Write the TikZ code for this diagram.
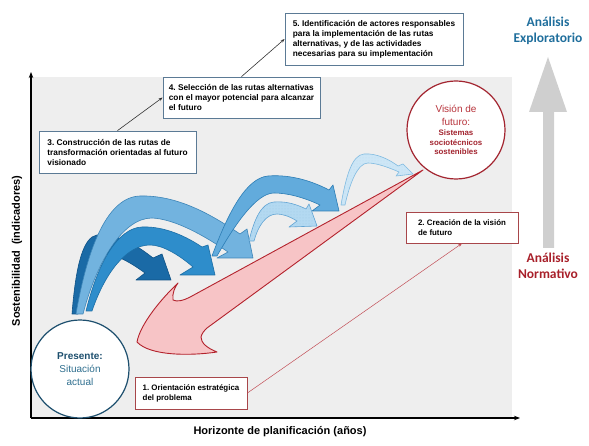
\documentclass[tikz,border=0pt]{standalone}
\usepackage{fontspec}
\setmainfont{Liberation Sans}
\newfontfamily\calfont{Carlito}
\usetikzlibrary{arrows.meta,patterns}
\frenchspacing
\definecolor{panel}{HTML}{EEEEEE}
\definecolor{boxblue}{HTML}{5B7A95}
\definecolor{boxred}{HTML}{A8464A}
\definecolor{presc}{HTML}{1D4F6E}
\definecolor{presl}{HTML}{2F6F8F}
\definecolor{visc}{HTML}{A32530}
\definecolor{visl}{HTML}{B8343C}
\definecolor{explc}{HTML}{1F6E9C}
\definecolor{normc}{HTML}{A8202A}
\definecolor{redfill}{HTML}{F7C4C6}
\definecolor{redline}{HTML}{B3222C}
\definecolor{bdark}{HTML}{1A6AA6}
\definecolor{bdarkl}{HTML}{0F5286}
\definecolor{blight}{HTML}{72B3DF}
\definecolor{blightl}{HTML}{3D85B8}
\definecolor{bmed}{HTML}{2E8DCB}
\definecolor{bmedl}{HTML}{1B6EA6}
\definecolor{bfour}{HTML}{62ABDC}
\definecolor{bfourl}{HTML}{2C7DB5}
\definecolor{bfive}{HTML}{B3D9F1}
\definecolor{bfivel}{HTML}{5FA3D3}
\definecolor{bsix}{HTML}{CDE6F6}
\definecolor{bsixl}{HTML}{7DB9E0}
\definecolor{garrow}{HTML}{CFCFCF}
\tikzset{
  infobox/.style={draw=boxblue, line width=0.8pt, fill=white, align=left,
    inner xsep=4pt, inner ysep=3pt,
    font=\fontsize{8.3}{10}\selectfont\bfseries},
  redbox/.style={draw=boxred, line width=0.8pt, fill=white, align=left,
    inner xsep=5pt, inner ysep=3pt,
    font=\fontsize{7.9}{10}\selectfont\bfseries},
  conn/.style={line width=0.6pt, draw=black!80, -{Stealth[length=4pt,width=3pt]}},
  redconn/.style={line width=0.5pt, draw=redline!80, -{Stealth[length=4pt,width=3pt]}},
  axisline/.style={line width=1.2pt, -{Stealth[length=6pt,width=4.5pt]}},
  blueline/.style={line width=0.6pt, line join=round},
  axislabel/.style={font=\fontsize{11}{13}\selectfont\bfseries}
}
\begin{document}
\begin{tikzpicture}[x=1pt,y=-1pt]
\useasboundingbox (0,0) rectangle (589,446);
% panel
\fill[panel] (32,77) rectangle (512,417);
% axes
\coordinate (orig) at (31,418);
\coordinate (ytop) at (31,72);
\coordinate (xend) at (520,418);
\draw[axisline] (orig) -- (ytop);
\draw[axisline] (orig) -- (xend);
\node[axislabel, rotate=90] (ylab) at (17,251) {Sostenibilidad~~(indicadores)};
\node[axislabel] (xlab) at (280,432) {Horizonte de planificación (años)};

% blue arrows
\draw[blueline, fill=bdark, draw=bdarkl] (72,314) .. controls (76,262) and (84,237) .. (97,235)
 .. controls (117,233) and (138,246) .. (153,258)
 -- (162,254) -- (171,280) -- (136,280) -- (145,273)
 .. controls (130,262) and (115,254) .. (105,254)
 .. controls (93,254) and (83,278) .. (78,314) -- cycle;
\draw[blueline, fill=blight, draw=blightl] (76,314) .. controls (88,245) and (108,197) .. (140,196)
 .. controls (178,195) and (212,215) .. (240,234)
 -- (247,229) -- (253,258) -- (217,258) -- (228,252)
 .. controls (205,236) and (175,219) .. (152,218)
 .. controls (122,218) and (96,264) .. (83,314) -- cycle;
\draw[blueline, fill=bmed, draw=bmedl] (86,311) .. controls (98,262) and (118,228) .. (142,227)
 .. controls (165,226) and (187,237) .. (202,247)
 -- (208,245) -- (215,275) -- (180,275) -- (193,267)
 .. controls (178,254) and (162,245) .. (150,245)
 .. controls (128,245) and (106,270) .. (92,311) -- cycle;
\draw[blueline, fill=bfour, draw=bfourl] (212,256) .. controls (228,213) and (246,178) .. (268,176)
 .. controls (293,174) and (316,183) .. (329,190)
 -- (333,185) -- (339,211) -- (312,211) -- (320,205)
 .. controls (303,197) and (287,193) .. (274,193)
 .. controls (256,193) and (234,226) .. (217,256) -- cycle;
\draw[blueline, fill=bfive, draw=bfivel, postaction={pattern=dots, pattern color=bfivel!60}] (249,241) .. controls (254,220) and (261,203) .. (274,202)
 .. controls (287,201) and (298,205) .. (306,209)
 -- (309,204) -- (317,226) -- (289,227) -- (297,221)
 .. controls (289,216) and (282,214) .. (277,214)
 .. controls (266,214) and (258,226) .. (254,241) -- cycle;
\draw[blueline, fill=bsix, draw=bsixl, postaction={pattern=dots, pattern color=bsixl!50}] (341,205) .. controls (346,176) and (352,155) .. (364,154)
 .. controls (377,153) and (390,160) .. (398,166)
 -- (403,164) -- (413,174) -- (396,176) -- (399,172)
 .. controls (390,168) and (377,163) .. (368,163)
 .. controls (358,163) and (350,182) .. (345,205) -- cycle;

% red arrow
\draw[line width=0.9pt, fill=redfill, draw=redline, line join=round] (423,170) -- (192,296)
 .. controls (183,301) and (177,302) .. (173,300)
 .. controls (172,293) and (175,287) .. (178,283)
 .. controls (160,300) and (140,325) .. (137,342)
 .. controls (150,356) and (190,356) .. (217,352)
 .. controls (207,348) and (201,343) .. (201,337)
 .. controls (202,333) and (204,331) .. (207,328) -- cycle;

% circles
\node[circle, draw=presc, line width=1.2pt, fill=white, minimum size=98pt, inner sep=0pt, align=center,
  font=\fontsize{10}{13}\selectfont, text=presl] (pres) at (80,369)
  {\textcolor{presc}{\bfseries Presente:}\\Situación\\actual};
\node[circle, draw=visc, line width=1.2pt, fill=white, minimum size=98pt, inner sep=0pt, align=center,
  font=\fontsize{10}{12.5}\selectfont, text=visl] (vis) at (456,130)
  {Visión de\\futuro:\\[-2pt]{\fontsize{7.9}{10}\selectfont\bfseries\color{visc}Sistemas}\\[-3pt]{\fontsize{7.9}{10}\selectfont\bfseries\color{visc}sociotécnicos}\\[-3pt]{\fontsize{7.9}{10}\selectfont\bfseries\color{visc}sostenibles}};

% boxes
\node[infobox, minimum width=178pt, minimum height=52pt] (b5) at (374,39)
  {5. Identificación de actores responsables\\para la implementación de las rutas\\alternativas, y de las actividades\\necesarias para su implementación};
\node[infobox, minimum width=157pt, minimum height=41pt] (b4) at (241.5,97.5)
  {4. Selección de las rutas alternativas\\con el mayor potencial para alcanzar\\el futuro};
\node[infobox, minimum width=157pt, minimum height=42pt] (b3) at (117.5,152)
  {3. Construcción de las rutas de\\transformación orientadas al futuro\\visionado};
\node[redbox, minimum width=112pt, minimum height=32pt] (b1) at (191,393)
  {1. Orientación estratégica\\del problema};
\node[redbox, minimum width=112pt, minimum height=31pt] (b2) at (462,227.5)
  {2. Creación de la visión\\de futuro};

% connectors
\draw[conn] (b3.north) -- (b4.west);
\draw[conn] (b4.north) -- (b5.west);
\draw[redconn] (b1.east) -- (b2.south);

% right side
\fill[garrow] (543,248) -- (543,112) -- (529,112) -- (548,57) -- (567,112) -- (554,112) -- (554,248) -- cycle;
\node[align=center, text=explc, font=\calfont\bfseries\fontsize{13.5}{16}\selectfont] (expl) at (548,31) {Análisis\\Exploratorio};
\node[align=center, text=normc, font=\calfont\bfseries\fontsize{13.5}{16}\selectfont] (norm) at (548,266) {Análisis\\Normativo};
\end{tikzpicture}
\end{document}
